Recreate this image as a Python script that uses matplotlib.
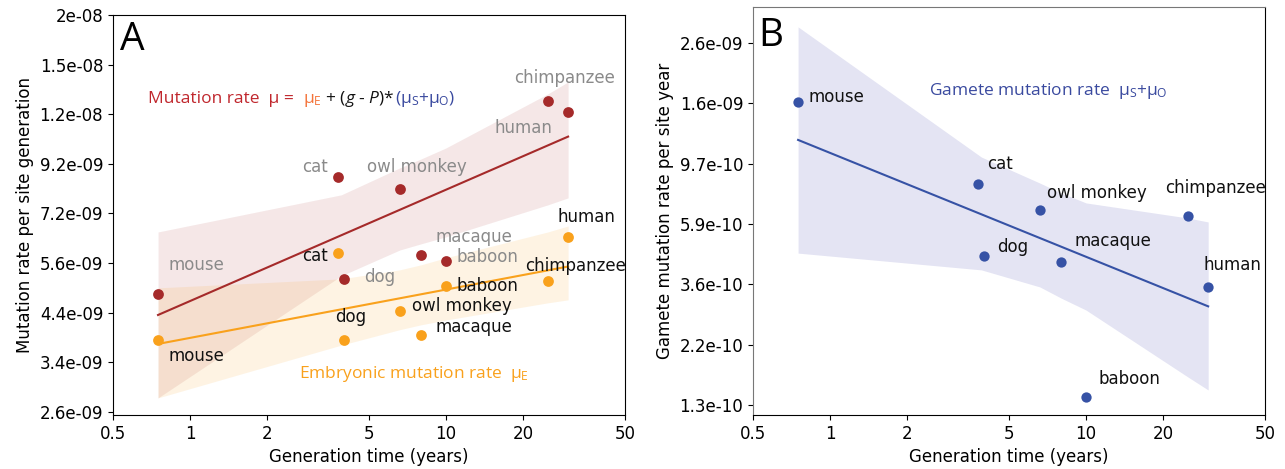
import numpy as np
import matplotlib
matplotlib.use("Agg")
import matplotlib.pyplot as plt
from matplotlib.ticker import FixedLocator, FixedFormatter, NullLocator
from matplotlib.offsetbox import TextArea, HPacker, AnnotationBbox

plt.rcParams['mathtext.fontset'] = 'custom'
plt.rcParams['mathtext.rm'] = 'Open Sans'
plt.rcParams['mathtext.it'] = 'Open Sans:italic'
plt.rcParams['mathtext.default'] = 'regular'

# --- data ---
species = ['mouse', 'cat', 'dog', 'owl monkey', 'macaque', 'baboon', 'chimpanzee', 'human']
gen_time = [0.75, 3.8, 4.0, 6.6, 8.0, 10.0, 25.0, 30.0]
total_rate = [4.79e-9, 8.65e-9, 5.17e-9, 8.14e-9, 5.83e-9, 5.66e-9, 1.268e-8, 1.20e-8]
embryo_rate = [3.80e-9, 5.89e-9, 3.80e-9, 4.40e-9, 3.90e-9, 4.99e-9, 5.12e-9, 6.39e-9]
gamete_rate = [1.61e-9, 8.2e-10, 4.53e-10, 6.62e-10, 4.31e-10, 1.415e-10, 6.30e-10, 3.51e-10]

# confidence bands
band_x = [0.75, 3.9, 6.6, 8.0, 10.0, 25.0, 30.0]
total_lo = [2.835e-9, 5.25e-9, 5.98e-9, 6.17e-9, 6.39e-9, 7.51e-9, 7.78e-9]
total_hi = [6.55e-9, 7.90e-9, 9.05e-9, 9.47e-9, 1.001e-8, 1.315e-8, 1.397e-8]
embryo_lo = [2.835e-9, 3.70e-9, 4.00e-9, 4.10e-9, 4.20e-9, 4.58e-9, 4.65e-9]
embryo_hi = [4.94e-9, 5.17e-9, 5.41e-9, 5.55e-9, 5.75e-9, 6.55e-9, 6.75e-9]
gamete_lo = [4.64e-10, 4.04e-10, 3.51e-10, 3.20e-10, 2.90e-10, 1.67e-10, 1.50e-10]
gamete_hi = [3.0e-9, 1.025e-9, 8.27e-10, 7.62e-10, 7.02e-10, 6.20e-10, 6.00e-10]

xticks = [0.5, 1, 2, 5, 10, 20, 50]
xticklabels = ['0.5', '1', '2', '5', '10', '20', '50']
a_yticklabels = ['2.6e-09', '3.4e-09', '4.4e-09', '5.6e-09', '7.2e-09',
                 '9.2e-09', '1.2e-08', '1.5e-08', '2e-08']
b_yticklabels = ['1.3e-10', '2.2e-10', '3.6e-10', '5.9e-10', '9.7e-10',
                 '1.6e-09', '2.6e-09']

# label offsets in pixels (layout only)
a_total_off = {'mouse': (10, 29, 'left'), 'cat': (-11, 10, 'right'), 'dog': (20, 2, 'left'),
               'owl monkey': (-33, 22, 'left'), 'macaque': (14, 18, 'left'),
               'baboon': (11, 4, 'left'), 'chimpanzee': (-34, 23, 'left'),
               'human': (-16, -16, 'right')}
a_embryo_off = {'mouse': (10, -16, 'left'), 'cat': (-11, -3, 'right'), 'dog': (-9, 23, 'left'),
                'owl monkey': (12, 5, 'left'), 'macaque': (14, 8, 'left'),
                'baboon': (11, 0, 'left'), 'chimpanzee': (-23, 15, 'left'),
                'human': (-11, 20, 'left')}
b_off = {'mouse': (10, 5), 'cat': (9, 20), 'dog': (13, 9), 'owl monkey': (7, 17),
         'macaque': (13, 21), 'baboon': (12, 18), 'chimpanzee': (-23, 28),
         'human': (-5, 22)}

RED = '#a52a2a'
ORANGE = '#f9a11c'
BLUE = '#3652a5'
GRAY = '#8a8a8a'


def fit_line(x, y):
    lx, ly = np.log10(x), np.log10(y)
    k, b = np.polyfit(lx, ly, 1)
    xs = np.array([min(x), max(x)])
    return xs, 10 ** (b + k * np.log10(xs))


def style_axis(ax, ylim, labels):
    ax.set_xscale('log')
    ax.set_yscale('log')
    ax.set_xlim(0.5, 50)
    ax.set_ylim(*ylim)
    ax.xaxis.set_major_locator(FixedLocator(xticks))
    ax.xaxis.set_major_formatter(FixedFormatter(xticklabels))
    ax.xaxis.set_minor_locator(NullLocator())
    ax.yaxis.set_minor_locator(NullLocator())
    ax.tick_params(labelsize=12)
    ax.set_xlabel('Generation time (years)', fontsize=12)


fig = plt.figure(figsize=(12.85, 4.69), dpi=100)

# ---------------- panel A ----------------
ax = fig.add_axes([0.0879, 0.1151, 0.3984, 0.8529])
a_ticks = np.geomspace(2.642e-9, 1.958e-8, len(a_yticklabels))
style_axis(ax, (2.60e-9, 1.958e-8), a_yticklabels)
ax.yaxis.set_major_locator(FixedLocator(a_ticks))
ax.yaxis.set_major_formatter(FixedFormatter(a_yticklabels))

ax.fill_between(band_x, total_lo, total_hi, color=RED, alpha=0.11, linewidth=0)
ax.fill_between(band_x, embryo_lo, embryo_hi, color=ORANGE, alpha=0.12, linewidth=0)
xs, ys = fit_line(gen_time, total_rate)
ax.plot(xs, ys, color=RED, lw=1.5)
xs, ys = fit_line(gen_time, embryo_rate)
ax.plot(xs, ys, color=ORANGE, lw=1.5)
ax.scatter(gen_time, total_rate, s=60, color=RED, zorder=3, linewidths=0)
ax.scatter(gen_time, embryo_rate, s=60, color=ORANGE, zorder=3, linewidths=0)

for name, x, y in zip(species, gen_time, total_rate):
    dx, dy, ha = a_total_off[name]
    ax.annotate(name, (x, y), xytext=(dx, dy), textcoords='offset pixels',
                ha=ha, va='center', fontsize=12, color=GRAY)
for name, x, y in zip(species, gen_time, embryo_rate):
    dx, dy, ha = a_embryo_off[name]
    ax.annotate(name, (x, y), xytext=(dx, dy), textcoords='offset pixels',
                ha=ha, va='center', fontsize=12, color='#111111')

tp = dict(fontsize=12.5, family='Open Sans')
parts = [TextArea('Mutation rate  \u03bc =  ', textprops=dict(color='#c0272d', **tp)),
         TextArea(r'$\mu_E$', textprops=dict(color='#f4743b', **tp)),
         TextArea(r' + ($\mathit{g}$ - $\mathit{P}$)*', textprops=dict(color='#111111', **tp)),
         TextArea(r'($\mu_S$+$\mu_O$)', textprops=dict(color='#3a4a9f', **tp))]
box = HPacker(children=parts, align='baseline', pad=0, sep=0)
ax.add_artist(AnnotationBbox(box, (0.068, 0.79), xycoords='axes fraction',
                             box_alignment=(0, 0.5), frameon=False, pad=0))
ax.text(0.363, 0.1025, r'Embryonic mutation rate  $\mu_E$', transform=ax.transAxes,
        color=ORANGE, va='center', ha='left', **tp)
ax.text(0.014, 0.985, 'A', transform=ax.transAxes, fontsize=28, family='Open Sans',
        va='top', ha='left')
ax.set_ylabel('Mutation rate per site generation', fontsize=12)

# ---------------- panel B ----------------
bx = fig.add_axes([0.586, 0.1151, 0.3984, 0.870])
b_ticks = np.geomspace(1.325e-10, 2.626e-9, len(b_yticklabels))
style_axis(bx, (1.22e-10, 3.535e-9), b_yticklabels)
bx.yaxis.set_major_locator(FixedLocator(b_ticks))
bx.yaxis.set_major_formatter(FixedFormatter(b_yticklabels))

bx.fill_between(band_x, gamete_lo, gamete_hi, color='#6a6ac0', alpha=0.18, linewidth=0)
xs, ys = fit_line(gen_time, gamete_rate)
bx.plot(xs, ys, color=BLUE, lw=1.5)
bx.scatter(gen_time, gamete_rate, s=55, color=BLUE, zorder=3, linewidths=0)
for name, x, y in zip(species, gen_time, gamete_rate):
    dx, dy = b_off[name]
    bx.annotate(name, (x, y), xytext=(dx, dy), textcoords='offset pixels',
                ha='left', va='center', fontsize=12, color='#111111')

bx.text(0.344, 0.794, r'Gamete mutation rate  $\mu_S$+$\mu_O$', transform=bx.transAxes,
        color='#3a4a9f', va='center', ha='left', **tp)
bx.text(0.010, 0.975, 'B', transform=bx.transAxes, fontsize=28, family='Open Sans',
        va='top', ha='left')
bx.set_ylabel('Gamete mutation rate per site year', fontsize=12)
for side in ('left', 'top'):
    bx.spines[side].set_color('#777777')

fig.savefig('out.png', dpi=100)
